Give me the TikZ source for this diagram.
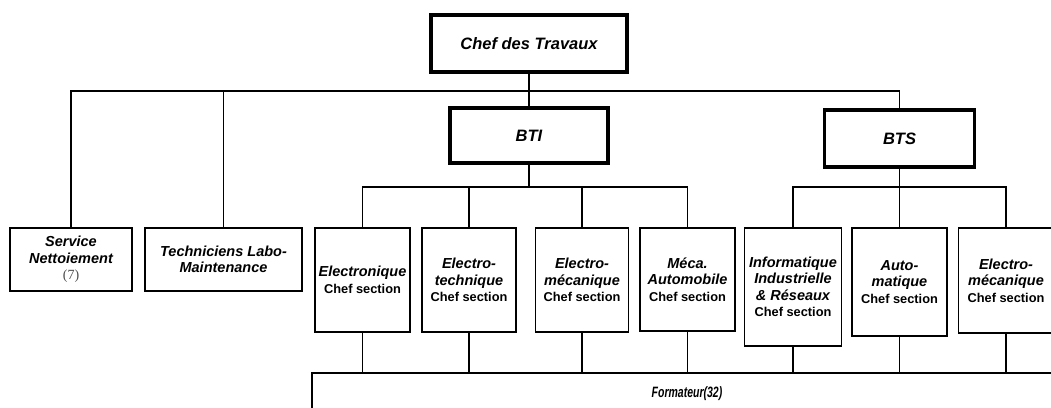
\documentclass[tikz,border=0pt]{standalone}
\usepackage{fontspec}
\setmainfont{Liberation Sans}
\newfontfamily\numfont{Liberation Serif}
\begin{document}
\begin{tikzpicture}[x=1pt,y=-1pt,
  every node/.style={inner sep=0pt, outer sep=0pt},
  unit/.style={draw, line width=1.9pt, rectangle, align=center,
    font=\fontsize{14.5}{16.5}\selectfont\bfseries\itshape},
  headbox/.style={unit, line width=3.2pt,
    font=\fontsize{16.5}{18}\selectfont\bfseries\itshape},
  conn/.style={line width=1.6pt}]
\newcommand{\cs}{{\fontsize{12.8}{15}\selectfont\upshape Chef section}}
\useasboundingbox (0,0) rectangle (1051,407);
\clip (0,0) rectangle (1051,407);

% management
\node[headbox, minimum width=196pt, minimum height=57pt] (chef) at (529,43.5) {Chef des Travaux};
\node[headbox, minimum width=158pt, minimum height=55pt] (bti) at (529,135.5) {BTI};
\node[headbox, minimum width=150pt, minimum height=57pt] (bts) at (899.5,138.5) {BTS};

% services
\node[unit, minimum width=122pt, minimum height=63pt] (serv) at (71,259.5)
  {Service\\Nettoiement\\{\numfont\mdseries\upshape\fontsize{14}{17}\selectfont\color{black!70}(7)}};
\node[unit, minimum width=157pt, minimum height=63pt] (tech) at (223.5,259.5)
  {Techniciens Labo-\\Maintenance};

% sections
\node[unit, minimum width=95pt, minimum height=104pt] (elec) at (362.5,280) {Electronique\\\cs};
\node[unit, minimum width=94pt, minimum height=104pt] (etech) at (469,280) {Electro-\\technique\\\cs};
\node[unit, minimum width=93pt, minimum height=104pt] (emec) at (582,280) {Electro-\\mécanique\\\cs};
\node[unit, minimum width=95pt, minimum height=103pt] (meca) at (687.5,279.5) {Méca.\\Automobile\\\cs};
\node[unit, minimum width=97pt, minimum height=118pt] (info) at (793,287) {Informatique\\Industrielle\\\& Réseaux\\\cs};
\node[unit, minimum width=95pt, minimum height=108pt] (auto) at (899.5,282) {Auto-\\matique\\\cs};
\node[unit, minimum width=95pt, minimum height=105pt] (emec2) at (1006,280.5) {Electro-\\mécanique\\\cs};

% trainers
\node[draw, line width=2.4pt, minimum width=750pt, minimum height=42pt,
  font=\fontsize{15}{17}\selectfont\bfseries\itshape] (form) at (687,394)
  {\scalebox{0.7}[1]{Formateur(32)}};

% top level links
\coordinate (bus1) at (0,91);
\draw[conn] (serv.north) |- (bts.north |- bus1) -- (bts.north);
\draw[conn] (tech.north) -- (tech.north |- bus1);
\draw[conn] (chef.south) -- (bti.north);

% BTI links
\coordinate (bus2) at (0,187);
\draw[conn] (elec.north) |- (meca.north |- bus2) -- (meca.north);
\draw[conn] (etech.north) -- (etech.north |- bus2);
\draw[conn] (emec.north) -- (emec.north |- bus2);
\draw[conn] (bti.south) -- (bti.south |- bus2);

% BTS links
\draw[conn] (info.north) |- (emec2.north |- bus2) -- (emec2.north);
\draw[conn] (auto.north) -- (auto.north |- bus2);
\draw[conn] (bts.south) -- (bts.south |- bus2);

% sections to trainers
\foreach \s in {elec,etech,emec,meca,info,auto,emec2}
  \draw[conn] (\s.south) -- (\s.south |- form.north);
\end{tikzpicture}
\end{document}
